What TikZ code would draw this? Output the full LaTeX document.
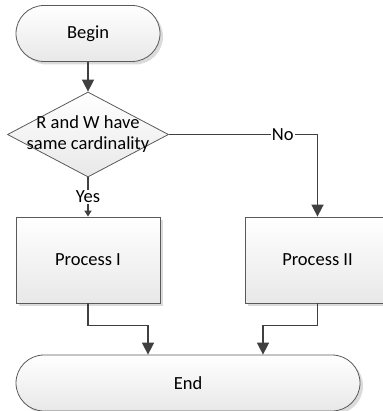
\documentclass[tikz,border=0pt]{standalone}
\usepackage{fontspec}
\setmainfont{Carlito}
\usetikzlibrary{shapes.geometric,shadows,arrows.meta}
\definecolor{edgegray}{HTML}{5A5A5A}
\definecolor{flowgray}{HTML}{404040}
\begin{document}
\begin{tikzpicture}[x=1pt,y=-1pt,
font=\fontsize{18.5}{21}\selectfont,
terminal/.style ={rectangle, draw=edgegray, line width=0.8pt,
  top color=white, bottom color=black!9, rounded corners=28pt,
  minimum height=56pt, inner sep=0pt,
  drop shadow={shadow xshift=3pt, shadow yshift=-3pt, fill=black!14, opacity=1}
},
process/.style ={rectangle, draw=edgegray, line width=0.8pt,
  top color=white, bottom color=black!9,
  minimum width=144pt, minimum height=86pt, inner sep=0pt,
  drop shadow={shadow xshift=3pt, shadow yshift=-3pt, fill=black!14, opacity=1}
},
decision/.style ={diamond, aspect=1.894, draw=edgegray, line width=0.8pt,
  top color=white, bottom color=black!9, align=center,
  minimum width=161pt, minimum height=85pt, inner sep=-8pt
},
flow/.style ={draw=flowgray, line width=1.6pt,
  -{Triangle[length=12pt,width=12pt]}
}]
\useasboundingbox (0,0) rectangle (382,411);
\node (begin) at (88,33.5) [terminal, minimum width=144pt] {Begin};
\node (test) at (88,134.5) [decision] {R and W have\\same cardinality};
\node (proc1) at (88,260) [process] {Process I};
\node (proc2) at (317.5,260) [process, minimum width=145pt] {Process II};
\node (end) at (188,383) [terminal, minimum width=344pt] {End};
% branches
\draw[flow] (begin) -- (test);
\draw[flow, -{Triangle[length=6pt,width=7pt]}] (test) --
  node[fill=white, inner sep=1pt] {Yes} (proc1);
\draw[flow] (test.east) -| node[pos=0.383, fill=white, inner sep=1pt] {No} (proc2);
% merge into End
\draw[flow] (proc1.south) -- ++(0,22) -| ([xshift=-40pt]end.north);
\draw[flow] (proc2.south) -- ++(0,22) -| ([xshift=75pt]end.north);
\end{tikzpicture}
\end{document}
